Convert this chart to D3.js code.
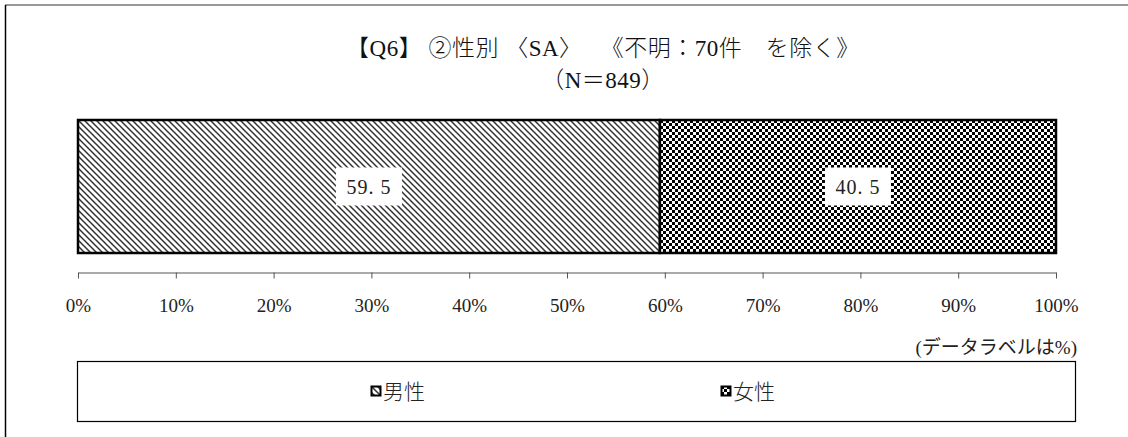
<!DOCTYPE html>
<html>
    <head>
        <meta charset="utf-8">
        <title>Q6 性別</title>
        <script src="https://d3js.org/d3.v7.min.js"></script>
        <style>
            body { margin: 0; background: #fff; }
            .serif { font-family: "Liberation Serif", "Noto Sans CJK JP", serif; }
            .axis path, .axis line { stroke: #555; }
        </style>
    </head>
    <body>
        <svg width="1128" height="437"></svg>
        <script>
            var categories = ["男性", "女性"];
            var values = [59.5, 40.5];
            var tickValues = [0, 10, 20, 30, 40, 50, 60, 70, 80, 90, 100];
            var titleLines = ["【Q6】 ②性別 〈SA〉　 《不明：70件　を除く》", "（N＝849）"];

            var svg = d3.select("svg");

            // patterns
            var defs = svg.append("defs");
            var p1 = defs.append("pattern").attr("id", "diag")
                .attr("patternUnits", "userSpaceOnUse").attr("width", 6).attr("height", 6);
            p1.append("rect").attr("width", 6).attr("height", 6).attr("fill", "#fff");
            p1.append("path").attr("d", "M-1,-1L7,7M-4,2L1,7M2,-4L7,1")
                .attr("stroke", "#333").attr("stroke-width", 1.5);

            var p2 = defs.append("pattern").attr("id", "check")
                .attr("patternUnits", "userSpaceOnUse").attr("width", 6).attr("height", 6);
            p2.append("rect").attr("width", 6).attr("height", 6).attr("fill", "#fff");
            p2.append("rect").attr("width", 3).attr("height", 3).attr("fill", "#000");
            p2.append("rect").attr("x", 3).attr("y", 3).attr("width", 3).attr("height", 3).attr("fill", "#000");

            var fills = ["url(#diag)", "url(#check)"];

            // frame
            svg.append("line").attr("x1", 5).attr("x2", 1128).attr("y1", 5).attr("y2", 5)
                .attr("stroke", "#777").attr("stroke-width", 1.5);
            svg.append("line").attr("x1", 5.5).attr("x2", 5.5).attr("y1", 5).attr("y2", 437)
                .attr("stroke", "#000").attr("stroke-width", 1.5);

            // title
            svg.append("g").attr("class", "serif").selectAll("text")
                .data(titleLines).enter().append("text")
                .attr("x", 603)
                .attr("y", function(d, i) { return 56 + i * 32; })
                .attr("text-anchor", "middle")
                .attr("font-size", "23px")
                .attr("letter-spacing", "0.5px")
                .attr("font-weight", 300)
                .attr("fill", "#111")
                .text(function(d) { return d; });

            var xScale = d3.scaleLinear().domain([0, 100]).range([78, 1056]);
            var barTop = 120, barH = 133;

            var data = [];
            var acc = 0;
            values.forEach(function(v, i) {
                data.push({ name: categories[i], value: v, x0: acc, x1: acc + v, fill: fills[i] });
                acc += v;
            });

            svg.selectAll(".bar")
                .data(data)
                .enter().append("rect")
                .attr("class", "bar")
                .attr("x", function(d) { return xScale(d.x0); })
                .attr("y", barTop)
                .attr("width", function(d) { return xScale(d.x1) - xScale(d.x0); })
                .attr("height", barH)
                .attr("fill", function(d) { return d.fill; })
                .attr("stroke", "#000")
                .attr("stroke-width", 2.5);

            // data labels
            var lab = svg.selectAll(".lab")
                .data(data)
                .enter().append("g")
                .attr("class", "lab serif")
                .attr("transform", function(d) {
                    return "translate(" + xScale((d.x0 + d.x1) / 2) + "," + (barTop + barH / 2) + ")";
                });
            lab.append("rect")
                .attr("x", -33).attr("y", -19).attr("width", 66).attr("height", 38)
                .attr("fill", "#fff");
            lab.append("text")
                .attr("text-anchor", "middle")
                .attr("dy", "0.35em")
                .attr("font-size", "20px")
                .attr("letter-spacing", "1px")
                .attr("fill", "#222")
                .text(function(d) { return d.value.toFixed(1).replace(".", ". "); });

            // axis
            var axis = svg.append("g")
                .attr("class", "axis serif")
                .attr("transform", "translate(0,272.5)")
                .call(d3.axisBottom(xScale)
                    .tickValues(tickValues)
                    .tickSize(6)
                    .tickSizeOuter(0)
                    .tickPadding(20)
                    .tickFormat(function(d) { return d + "%"; }));
            axis.selectAll("text")
                .attr("font-size", "19px")
                .attr("fill", "#222")
                .attr("font-family", "Liberation Serif, serif");

            svg.append("text")
                .attr("class", "serif")
                .attr("x", 1077)
                .attr("y", 354)
                .attr("text-anchor", "end")
                .attr("font-size", "19px")
                .attr("fill", "#222")
                .text("(データラベルは%)");

            // legend
            svg.append("rect")
                .attr("x", 77.5).attr("y", 361.5).attr("width", 998).attr("height", 60)
                .attr("fill", "#fff").attr("stroke", "#000").attr("stroke-width", 1.2);

            var leg = svg.selectAll(".leg")
                .data(data)
                .enter().append("g")
                .attr("class", "leg")
                .attr("transform", function(d, i) { return "translate(" + (371 + i * 350) + ",392)"; });
            leg.append("rect")
                .attr("x", 0.5).attr("y", -5.5).attr("width", 9).attr("height", 9)
                .attr("fill", function(d) { return d.fill; })
                .attr("stroke", "#000").attr("stroke-width", 2);
            leg.append("text")
                .attr("x", 12)
                .attr("dy", "0.35em")
                .attr("font-size", "21px")
                .attr("font-family", "Noto Sans CJK JP, sans-serif")
                .attr("font-weight", 300)
                .attr("fill", "#222")
                .text(function(d) { return d.name; });
        </script>
    </body>
</html>
